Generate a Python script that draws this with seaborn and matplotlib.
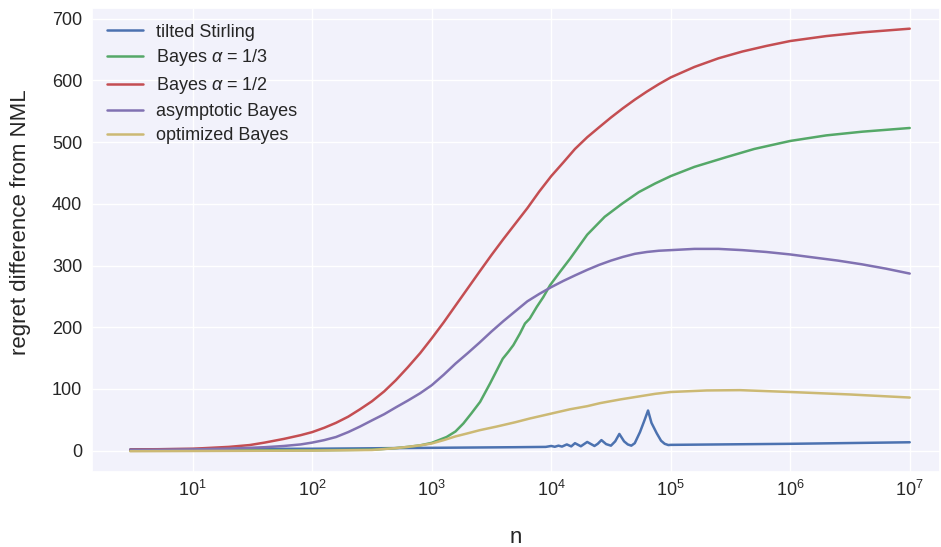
import numpy as np
import pandas as pd
import matplotlib
matplotlib.use("Agg")
import matplotlib.pyplot as plt
import seaborn as sns

# ---- data ----
n_stirling = [3, 10, 100, 1000, 5000, 9000, 10000, 10700, 11500, 12300, 13500, 14700,
              15800, 17700, 20000, 23000, 24500, 26300, 28800, 31600, 34300, 37150,
              40700, 43700, 46800, 50000, 55300, 60000, 64600, 69000, 76400, 83000,
              89000, 95500, 100000, 1000000, 10000000]
v_stirling = [2, 2.5, 3, 4.5, 5.5, 6, 7.5, 6.2, 8, 6.5, 10, 6.8,
              12, 7, 14, 7.5, 11, 17, 10.5, 8, 15, 27,
              15, 10, 8, 12, 30, 48, 65, 45, 28, 16,
              11, 9, 9.3, 11, 13.5]

n_b13 = [3, 100, 316, 500, 630, 800, 1000, 1330, 1580, 1840, 2140, 2540, 3080, 3500,
         3930, 4370, 4820, 5480, 6030, 6610, 7570, 8590, 9770, 11860, 14360, 20000,
         28000, 39000, 54000, 74000, 100000, 158000, 295000, 500000, 1000000,
         2000000, 4000000, 10000000]
v_b13 = [0, 0.5, 1.5, 4, 6, 8.5, 12.5, 22, 31, 44, 60, 79, 109, 130,
         149, 160, 171, 190, 206, 214, 233, 249, 268, 290, 311, 350,
         379, 400, 419, 433, 445, 460, 476, 489, 502,
         511, 517, 523]

n_b12 = [3, 10, 20, 30, 40, 58, 80, 100, 126, 158, 200, 251, 316, 400, 500, 630,
         800, 1000, 1260, 1580, 2000, 2510, 3160, 3980, 5010, 6310, 7940, 10000,
         12600, 15800, 20000, 25100, 31600, 39800, 50100, 63100, 79400, 100000,
         158000, 251000, 398000, 631000, 1000000, 2000000, 4000000, 10000000]
v_b12 = [1.5, 3, 6, 9, 13, 19, 25, 30, 37, 45, 55, 67, 80, 96, 114, 135,
         158, 182, 208, 235, 263, 290, 317, 343, 368, 393, 420, 445,
         467, 489, 508, 524, 540, 555, 569, 582, 594, 605,
         622, 636, 647, 656, 664, 672, 678, 684]

n_asym = [3, 10, 20, 30, 40, 58, 80, 100, 126, 158, 200, 251, 316, 400, 500, 630,
          800, 1000, 1260, 1580, 2000, 2510, 3160, 3980, 5010, 6310, 7940, 10000,
          12600, 15800, 20000, 25100, 31600, 39800, 50100, 63100, 79400, 100000,
          158000, 251000, 398000, 631000, 1000000, 1580000, 2510000, 3980000,
          6310000, 10000000]
v_asym = [1, 2, 3.2, 4.5, 5.5, 7.5, 10, 13, 17, 22, 30, 39, 49, 59, 70, 81,
          93, 106, 123, 141, 158, 175, 193, 210, 226, 242, 254, 265,
          275, 284, 293, 301, 308, 314, 319, 322, 324, 325,
          327, 327, 325, 322, 318, 313, 308, 302,
          295, 287]

n_opt = [3, 100, 316, 500, 630, 800, 1000, 1260, 1580, 2000, 2510, 3500, 5010,
         6610, 10000, 14360, 20000, 25700, 38000, 74000, 100000, 200000, 380000,
         1000000, 3160000, 10000000]
v_opt = [-1, 0, 1, 4, 6, 8.5, 11.5, 17, 23, 28, 33, 39, 46,
         52, 60, 67, 72, 77, 83, 92, 95, 97.5, 98,
         95, 91, 86]

labels = ["tilted Stirling", r"Bayes $\alpha$ = 1/3", r"Bayes $\alpha$ = 1/2",
          "asymptotic Bayes", "optimized Bayes"]
colors = ["#4C72B0", "#55A868", "#C44E52", "#8172B2", "#CCB974"]
xtick_values = [10, 100, 1000, 10000, 100000, 1000000, 10000000]
ytick_values = [0, 100, 200, 300, 400, 500, 600, 700]

# ---- style ----
sns.set_theme(style="darkgrid", rc={
    "axes.facecolor": "#F2F2FB",
    "grid.color": "white",
    "grid.linewidth": 1.0,
})
plt.rcParams["font.family"] = ["Liberation Sans", "DejaVu Sans"]
plt.rcParams["mathtext.fontset"] = "custom"
plt.rcParams["mathtext.rm"] = "Liberation Sans"
plt.rcParams["mathtext.it"] = "Liberation Sans:italic"
plt.rcParams["mathtext.bf"] = "Liberation Sans:bold"

fig, ax = plt.subplots(figsize=(9.41, 5.47), dpi=100)
fig.subplots_adjust(left=0.0978, right=0.999, bottom=0.137, top=0.985)

series = [(n_stirling, v_stirling), (n_b13, v_b13), (n_b12, v_b12),
          (n_asym, v_asym), (n_opt, v_opt)]
for (xs, ys), lab, col in zip(series, labels, colors):
    sns.lineplot(x=xs, y=ys, ax=ax, label=lab, color=col, linewidth=1.8,
                 estimator=None, sort=False)

ax.set_xscale("log")
ax.set_xticks(xtick_values)
ax.xaxis.set_minor_locator(matplotlib.ticker.NullLocator())
ax.set_xlim(10 ** 0.157, 10 ** 7.254)
ax.set_yticks(ytick_values)
ax.set_ylim(-34.8, 717.2)
ax.grid(True, which="major")

ax.tick_params(axis="both", labelsize=13, length=0)
ax.tick_params(axis="y", pad=7)
ax.tick_params(axis="x", pad=6)
ax.set_xlabel("n", fontsize=16, labelpad=19)
ax.set_ylabel("regret difference from NML", fontsize=16, labelpad=15)
ax.yaxis.set_label_coords(-0.072, 0.539)

leg = ax.legend(loc="upper left", frameon=False, fontsize=13,
                labelspacing=0.38, handletextpad=0.7, borderaxespad=0.45)

fig.savefig("out.png", dpi=100)
